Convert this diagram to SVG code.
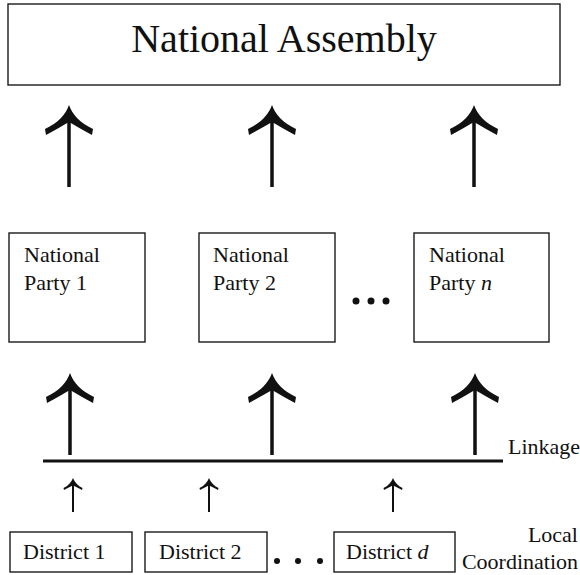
<svg xmlns="http://www.w3.org/2000/svg" width="580" height="575" viewBox="0 0 580 575">
<defs>
<style>
.box{fill:#fff;stroke:#1a1a1a;stroke-width:1.4}
.t{font-family:"Liberation Serif","Times New Roman",serif;fill:#111;font-size:22px}
.big{font-size:40px}
.shaft{stroke:#111;stroke-width:3.5;fill:none}
.thin{stroke:#111;stroke-width:2;fill:none}
.head{fill:#111}
.dot{fill:#111}
</style>
<path id="bighead" d="M0,0 C3,9 11,18 24,24 L23,30 C14,25 7,21 0,17 C-7,21 -14,25 -23,30 L-24,24 C-11,18 -3,9 0,0 Z"/>
<path id="smallhead" d="M0,0 C1.5,4 5,8 9.5,10 L9,12 C5,10 2,8.5 0,7 C-2,8.5 -5,10 -9,12 L-9.5,10 C-5,8 -1.5,4 0,0 Z"/>
</defs>
<rect width="580" height="575" fill="#fff"/>

<g id="national-assembly">
<rect class="box" x="8" y="4" width="552" height="81"/>
<text class="t big" x="284" y="52" text-anchor="middle">National Assembly</text>
</g>

<g id="party-1">
<rect class="box" x="9" y="233" width="136" height="109"/>
<text class="t" x="24" y="262">National</text>
<text class="t" x="24" y="290">Party 1</text>
</g>
<g id="party-2">
<rect class="box" x="199" y="233" width="136" height="109"/>
<text class="t" x="213" y="262">National</text>
<text class="t" x="213" y="290">Party 2</text>
</g>
<g id="party-n">
<rect class="box" x="414" y="233" width="135" height="109"/>
<text class="t" x="429" y="262">National</text>
<text class="t" x="429" y="290">Party <tspan font-style="italic">n</tspan></text>
</g>
<g id="party-dots">
<circle class="dot" cx="356" cy="301" r="3.5"/>
<circle class="dot" cx="371" cy="301" r="3.5"/>
<circle class="dot" cx="386" cy="301" r="3.5"/>
</g>

<g id="district-1">
<rect class="box" x="10" y="532" width="122" height="40"/>
<text class="t" x="23" y="559">District 1</text>
</g>
<g id="district-2">
<rect class="box" x="145" y="532" width="122" height="40"/>
<text class="t" x="159" y="559">District 2</text>
</g>
<g id="district-d">
<rect class="box" x="334" y="532" width="121" height="40"/>
<text class="t" x="346" y="559">District <tspan font-style="italic">d</tspan></text>
</g>
<g id="district-dots">
<circle class="dot" cx="277" cy="561" r="3"/>
<circle class="dot" cx="298" cy="561" r="3"/>
<circle class="dot" cx="320" cy="561" r="3"/>
</g>

<g id="labels">
<text class="t" x="508" y="454">Linkage</text>
<text class="t" x="578" y="542" text-anchor="end">Local</text>
<text class="t" x="578" y="569" text-anchor="end">Coordination</text>
</g>

<g id="connectors">
<line class="shaft" x1="69" y1="110" x2="69" y2="187"/>
<line class="shaft" x1="272" y1="110" x2="272" y2="187"/>
<line class="shaft" x1="474" y1="110" x2="474" y2="187"/>
<use href="#bighead" class="head" x="69" y="105"/>
<use href="#bighead" class="head" x="272" y="105"/>
<use href="#bighead" class="head" x="474" y="105"/>

<line class="shaft" x1="70" y1="378" x2="70" y2="455"/>
<line class="shaft" x1="272" y1="378" x2="272" y2="455"/>
<line class="shaft" x1="475" y1="378" x2="475" y2="455"/>
<use href="#bighead" class="head" x="70" y="373"/>
<use href="#bighead" class="head" x="272" y="373"/>
<use href="#bighead" class="head" x="475" y="373"/>

<line x1="43" y1="461" x2="503" y2="461" stroke="#111" stroke-width="3"/>

<line class="thin" x1="73" y1="481" x2="73" y2="512"/>
<line class="thin" x1="209" y1="481" x2="209" y2="512"/>
<line class="thin" x1="393" y1="481" x2="393" y2="512"/>
<use href="#smallhead" class="head" x="73" y="478"/>
<use href="#smallhead" class="head" x="209" y="478"/>
<use href="#smallhead" class="head" x="393" y="478"/>
</g>
</svg>
